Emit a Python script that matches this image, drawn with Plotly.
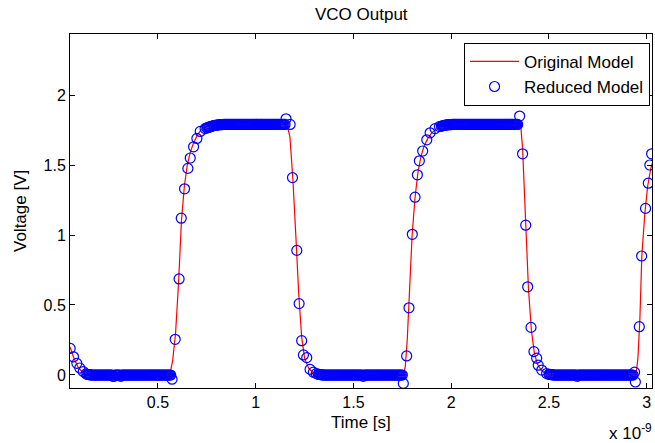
import plotly.graph_objects as go

# ---------------- data (time in units of 1e-9 s) ----------------
x_ticks = [0.5, 1, 1.5, 2, 2.5, 3]
x_tick_labels = ["0.5", "1", "1.5", "2", "2.5", "3"]
y_ticks = [0, 0.5, 1, 1.5, 2]
y_tick_labels = ["0", "0.5", "1", "1.5", "2"]

# Original model (red line)
orig_t = [0.05, 0.07, 0.09, 0.11, 0.13, 0.15,
          0.56, 0.575, 0.59, 0.605, 0.62, 0.635, 0.65, 0.665, 0.68, 0.70, 0.72, 0.75, 0.80,
          1.16, 1.175, 1.19, 1.205, 1.22, 1.235, 1.25, 1.27, 1.29, 1.32, 1.35,
          1.755, 1.765, 1.775, 1.79, 1.80, 1.815, 1.83, 1.845, 1.86, 1.88, 1.90, 1.93, 1.97, 2.0,
          2.355, 2.365, 2.38, 2.395, 2.41, 2.425, 2.44, 2.46, 2.48, 2.505,
          2.945, 2.955, 2.965, 2.975, 2.99, 3.005, 3.02, 3.03]
orig_v = [0.20, 0.12, 0.06, 0.025, 0.005, 0.0,
          0.0, 0.1, 0.30, 0.65, 1.10, 1.35, 1.50, 1.59, 1.65, 1.71, 1.75, 1.775, 1.788,
          1.79, 1.70, 1.40, 1.00, 0.58, 0.27, 0.12, 0.05, 0.02, 0.003, 0.0,
          0.0, 0.06, 0.25, 0.70, 1.00, 1.27, 1.45, 1.56, 1.63, 1.69, 1.73, 1.765, 1.783, 1.788,
          1.79, 1.62, 1.12, 0.62, 0.32, 0.16, 0.08, 0.035, 0.012, 0.0,
          0.0, 0.12, 0.40, 0.85, 1.15, 1.35, 1.47, 1.52]

# Reduced model (blue circles), segment by segment
start_t = [0.051, 0.068, 0.085, 0.10, 0.118, 0.132]
start_v = [0.19, 0.13, 0.083, 0.05, 0.024, 0.008]

low1_t = [0.140, 0.145, 0.150, 0.155, 0.160, 0.165, 0.170, 0.175, 0.180, 0.185,
          0.190, 0.195, 0.200, 0.205, 0.210, 0.215, 0.220, 0.225, 0.230, 0.235,
          0.240, 0.245, 0.250, 0.255, 0.260, 0.265, 0.270, 0.275, 0.280, 0.285,
          0.290, 0.295, 0.300, 0.305, 0.310, 0.315, 0.320, 0.325, 0.330, 0.335,
          0.340, 0.345, 0.350, 0.355, 0.360, 0.365, 0.370, 0.375, 0.380, 0.385,
          0.390, 0.395, 0.400, 0.405, 0.410, 0.415, 0.420, 0.425, 0.430, 0.435,
          0.440, 0.445, 0.450, 0.455, 0.460, 0.465, 0.470, 0.475, 0.480, 0.485,
          0.490, 0.495, 0.500, 0.505, 0.510, 0.515, 0.520, 0.525, 0.530, 0.535,
          0.540, 0.545, 0.550, 0.555, 0.560]
low1_v = [0.004, 0.003, 0.002, 0.001, 0.0, 0.0, 0.0, 0.0, 0.0, 0.0,
          0.0, 0.0, 0.0, 0.0, 0.0, 0.0, 0.0, 0.0, 0.0, 0.0,
          0.0, 0.0, 0.0, 0.0, 0.0, 0.0, -0.01, -0.01, 0.0, 0.0,
          0.0, 0.0, 0.0, 0.0, -0.01, 0.0, 0.0, 0.0, 0.0, 0.0,
          0.0, 0.0, 0.0, 0.0, 0.0, 0.0, 0.0, 0.0, 0.0, 0.0,
          0.0, 0.0, 0.0, 0.0, 0.0, 0.0, 0.0, 0.0, 0.0, 0.0,
          0.0, 0.0, 0.0, 0.0, 0.0, 0.0, 0.0, 0.0, 0.0, 0.0,
          0.0, 0.0, 0.0, 0.0, 0.0, 0.0, 0.0, 0.0, 0.0, 0.0,
          0.0, 0.0, 0.0, 0.0, 0.0]

rise1_t = [0.565, 0.572, 0.588, 0.608, 0.619, 0.636, 0.653, 0.665, 0.682, 0.699, 0.716, 0.741]
rise1_v = [0.0, -0.03, 0.255, 0.686, 1.12, 1.33, 1.476, 1.55, 1.63, 1.69, 1.74, 1.76]

high1_t = [0.750, 0.755, 0.760, 0.765, 0.770, 0.775, 0.780, 0.785, 0.790, 0.795,
           0.800, 0.805, 0.810, 0.815, 0.820, 0.825, 0.830, 0.835, 0.840, 0.845,
           0.850, 0.855, 0.860, 0.865, 0.870, 0.875, 0.880, 0.885, 0.890, 0.895,
           0.900, 0.905, 0.910, 0.915, 0.920, 0.925, 0.930, 0.935, 0.940, 0.945,
           0.950, 0.955, 0.960, 0.965, 0.970, 0.975, 0.980, 0.985, 0.990, 0.995,
           1.000, 1.005, 1.010, 1.015, 1.020, 1.025, 1.030, 1.035, 1.040, 1.045,
           1.050, 1.055, 1.060, 1.065, 1.070, 1.075, 1.080, 1.085, 1.090, 1.095,
           1.100, 1.105, 1.110, 1.115, 1.120, 1.125, 1.130, 1.135, 1.140, 1.145,
           1.150]
high1_v = [1.765, 1.768, 1.77, 1.772, 1.775, 1.777, 1.78, 1.782, 1.783, 1.784,
           1.785, 1.786, 1.787, 1.788, 1.788, 1.789, 1.789, 1.79, 1.79, 1.79,
           1.79, 1.79, 1.79, 1.79, 1.79, 1.79, 1.79, 1.79, 1.79, 1.79,
           1.79, 1.79, 1.79, 1.79, 1.79, 1.79, 1.79, 1.79, 1.79, 1.79,
           1.79, 1.79, 1.79, 1.79, 1.79, 1.79, 1.79, 1.79, 1.79, 1.79,
           1.79, 1.79, 1.79, 1.79, 1.79, 1.79, 1.79, 1.79, 1.79, 1.79,
           1.79, 1.79, 1.79, 1.79, 1.79, 1.79, 1.79, 1.79, 1.79, 1.79,
           1.79, 1.79, 1.79, 1.79, 1.79, 1.79, 1.79, 1.79, 1.79, 1.79,
           1.79]

fall1_t = [1.155, 1.176, 1.188, 1.21, 1.222, 1.235, 1.244, 1.261, 1.278, 1.295, 1.31]
fall1_v = [1.83, 1.79, 1.41, 0.89, 0.51, 0.245, 0.143, 0.124, 0.04, 0.02, 0.01]

low2_t = [1.320, 1.325, 1.330, 1.335, 1.340, 1.345, 1.350, 1.355, 1.360, 1.365,
          1.370, 1.375, 1.380, 1.385, 1.390, 1.395, 1.400, 1.405, 1.410, 1.415,
          1.420, 1.425, 1.430, 1.435, 1.440, 1.445, 1.450, 1.455, 1.460, 1.465,
          1.470, 1.475, 1.480, 1.485, 1.490, 1.495, 1.500, 1.505, 1.510, 1.515,
          1.520, 1.525, 1.530, 1.535, 1.540, 1.545, 1.550, 1.555, 1.560, 1.565,
          1.570, 1.575, 1.580, 1.585, 1.590, 1.595, 1.600, 1.605, 1.610, 1.615,
          1.620, 1.625, 1.630, 1.635, 1.640, 1.645, 1.650, 1.655, 1.660, 1.665,
          1.670, 1.675, 1.680, 1.685, 1.690, 1.695, 1.700, 1.705, 1.710, 1.715,
          1.720, 1.725, 1.730, 1.735, 1.740, 1.745, 1.750]
low2_v = [0.005, 0.004, 0.003, 0.002, 0.001, 0.0, 0.0, 0.0, 0.0, 0.0,
          0.0, 0.0, 0.0, 0.0, 0.0, 0.0, 0.0, 0.0, 0.0, 0.0,
          0.0, 0.0, 0.0, 0.0, 0.0, 0.0, 0.0, 0.0, 0.0, 0.0,
          0.0, 0.0, 0.0, 0.0, 0.0, 0.0, 0.0, 0.0, 0.0, 0.0,
          0.0, 0.0, 0.0, 0.0, 0.0, 0.0, -0.01, 0.0, 0.0, 0.0,
          0.0, 0.0, 0.0, 0.0, 0.0, 0.0, 0.0, 0.0, 0.0, 0.0,
          0.0, 0.0, 0.0, 0.0, 0.0, 0.0, 0.0, 0.0, 0.0, 0.0,
          0.0, 0.0, 0.0, 0.0, 0.0, 0.0, 0.0, 0.0, 0.0, 0.0,
          0.0, 0.0, 0.0, 0.0, 0.0, 0.0, 0.0]

rise2_t = [1.755, 1.772, 1.784, 1.801, 1.815, 1.827, 1.837, 1.854, 1.875, 1.892, 1.917, 1.94]
rise2_v = [-0.06, 0.136, 0.48, 1.005, 1.27, 1.43, 1.53, 1.60, 1.68, 1.73, 1.76, 1.775]

high2_t = [1.950, 1.955, 1.960, 1.965, 1.970, 1.975, 1.980, 1.985, 1.990, 1.995,
           2.000, 2.005, 2.010, 2.015, 2.020, 2.025, 2.030, 2.035, 2.040, 2.045,
           2.050, 2.055, 2.060, 2.065, 2.070, 2.075, 2.080, 2.085, 2.090, 2.095,
           2.100, 2.105, 2.110, 2.115, 2.120, 2.125, 2.130, 2.135, 2.140, 2.145,
           2.150, 2.155, 2.160, 2.165, 2.170, 2.175, 2.180, 2.185, 2.190, 2.195,
           2.200, 2.205, 2.210, 2.215, 2.220, 2.225, 2.230, 2.235, 2.240, 2.245,
           2.250, 2.255, 2.260, 2.265, 2.270, 2.275, 2.280, 2.285, 2.290, 2.295,
           2.300, 2.305, 2.310, 2.315, 2.320, 2.325, 2.330, 2.335, 2.340]
high2_v = [1.778, 1.78, 1.782, 1.783, 1.785, 1.786, 1.787, 1.788, 1.788, 1.789,
           1.789, 1.79, 1.79, 1.79, 1.79, 1.79, 1.79, 1.79, 1.79, 1.79,
           1.79, 1.79, 1.79, 1.79, 1.79, 1.79, 1.79, 1.79, 1.79, 1.79,
           1.79, 1.79, 1.79, 1.79, 1.79, 1.79, 1.79, 1.79, 1.79, 1.79,
           1.79, 1.79, 1.79, 1.79, 1.79, 1.79, 1.79, 1.79, 1.79, 1.79,
           1.79, 1.79, 1.79, 1.79, 1.79, 1.79, 1.79, 1.79, 1.79, 1.79,
           1.79, 1.79, 1.79, 1.79, 1.79, 1.79, 1.79, 1.79, 1.79, 1.79,
           1.79, 1.79, 1.79, 1.79, 1.79, 1.79, 1.79, 1.79, 1.79]

fall2_t = [2.35, 2.365, 2.381, 2.391, 2.408, 2.423, 2.437, 2.445, 2.463, 2.488]
fall2_v = [1.85, 1.58, 1.07, 0.63, 0.34, 0.167, 0.12, 0.07, 0.035, 0.01]

low3_t = [2.500, 2.505, 2.510, 2.515, 2.520, 2.525, 2.530, 2.535, 2.540, 2.545,
          2.550, 2.555, 2.560, 2.565, 2.570, 2.575, 2.580, 2.585, 2.590, 2.595,
          2.600, 2.605, 2.610, 2.615, 2.620, 2.625, 2.630, 2.635, 2.640, 2.645,
          2.650, 2.655, 2.660, 2.665, 2.670, 2.675, 2.680, 2.685, 2.690, 2.695,
          2.700, 2.705, 2.710, 2.715, 2.720, 2.725, 2.730, 2.735, 2.740, 2.745,
          2.750, 2.755, 2.760, 2.765, 2.770, 2.775, 2.780, 2.785, 2.790, 2.795,
          2.800, 2.805, 2.810, 2.815, 2.820, 2.825, 2.830, 2.835, 2.840, 2.845,
          2.850, 2.855, 2.860, 2.865, 2.870, 2.875, 2.880, 2.885, 2.890, 2.895,
          2.900, 2.905, 2.910, 2.915, 2.920, 2.925, 2.930]
low3_v = [0.005, 0.004, 0.003, 0.002, 0.001, 0.0, 0.0, 0.0, 0.0, 0.0,
          0.0, 0.0, 0.0, 0.0, 0.0, 0.0, 0.0, 0.0, 0.0, 0.0,
          0.0, 0.0, 0.0, 0.0, 0.0, 0.0, 0.0, 0.0, 0.0, -0.01,
          0.0, 0.0, 0.0, 0.0, 0.0, 0.0, 0.0, 0.0, 0.0, 0.0,
          0.0, 0.0, 0.0, 0.0, 0.0, 0.0, 0.0, 0.0, 0.0, 0.0,
          0.0, 0.0, 0.0, 0.0, 0.0, 0.0, 0.0, 0.0, 0.0, 0.0,
          0.0, 0.0, 0.0, 0.0, 0.0, 0.0, 0.0, 0.0, 0.0, 0.0,
          0.0, 0.0, 0.0, 0.0, 0.0, 0.0, 0.0, 0.0, 0.0, 0.0,
          0.0, 0.0, 0.0, 0.0, 0.0, 0.0, 0.0]

rise3_t = [2.938, 2.942, 2.962, 2.974, 2.994, 3.008, 3.016, 3.025]
rise3_v = [0.02, -0.05, 0.345, 0.85, 1.19, 1.37, 1.5, 1.58]

red_t = (start_t + low1_t + rise1_t + high1_t + fall1_t + low2_t + rise2_t
         + high2_t + fall2_t + low3_t + rise3_t)
red_v = (start_v + low1_v + rise1_v + high1_v + fall1_v + low2_v + rise2_v
         + high2_v + fall2_v + low3_v + rise3_v)

FONT = "Liberation Sans, Arial, sans-serif"
TXT = dict(family=FONT, size=17, color="black")
TICK = dict(family=FONT, size=16, color="black")

fig = go.Figure()
fig.add_trace(go.Scatter(
    x=orig_t, y=orig_v, mode="lines", name="Original Model", legendgroup="a",
    line=dict(color="#ff0000", width=1.2),
))
fig.add_trace(go.Scatter(
    x=red_t, y=red_v, mode="markers", name="Reduced Model", legendgroup="b",
    marker=dict(symbol="circle-open", size=10, color="#0000ff",
                line=dict(width=1.2, color="#0000ff")),
))

axis_common = dict(
    showline=True, linecolor="black", linewidth=1, mirror="ticks",
    ticks="inside", ticklen=5, tickcolor="black", tickwidth=1,
    showgrid=False, zeroline=False, tickfont=TICK,
)

fig.update_xaxes(range=[0.05, 3.027], tickvals=x_ticks, ticktext=x_tick_labels,
                 **axis_common)
fig.update_yaxes(range=[-0.093, 2.436], tickvals=y_ticks, ticktext=y_tick_labels,
                 **axis_common)

fig.update_layout(
    width=655, height=443,
    margin=dict(l=70, r=3, t=34, b=55),
    paper_bgcolor="white", plot_bgcolor="white",
    font=TXT,
    showlegend=True,
    legend=dict(
        x=0.9966, y=0.975, xanchor="right", yanchor="top",
        bordercolor="black", borderwidth=1, bgcolor="white",
        font=TXT, tracegroupgap=0, itemwidth=49,
    ),
    annotations=[
        dict(text="VCO Output", x=0.5, xref="paper", y=1, yref="paper",
             yshift=20, yanchor="middle", showarrow=False, font=TXT),
        dict(text="Time [s]", x=0.5, xref="paper", y=0, yref="paper",
             yshift=-34, yanchor="middle", showarrow=False, font=TXT),
        dict(text="Voltage [V]", x=0, xref="paper", y=0.5, yref="paper",
             xshift=-50, textangle=-90, xanchor="center", showarrow=False,
             font=TXT),
        dict(text="x 10<sup>-9</sup>", x=1, xref="paper", y=0, yref="paper",
             xshift=2, yshift=-44, xanchor="right", yanchor="middle",
             showarrow=False, font=TXT),
    ],
)

fig.write_html("out.html")
